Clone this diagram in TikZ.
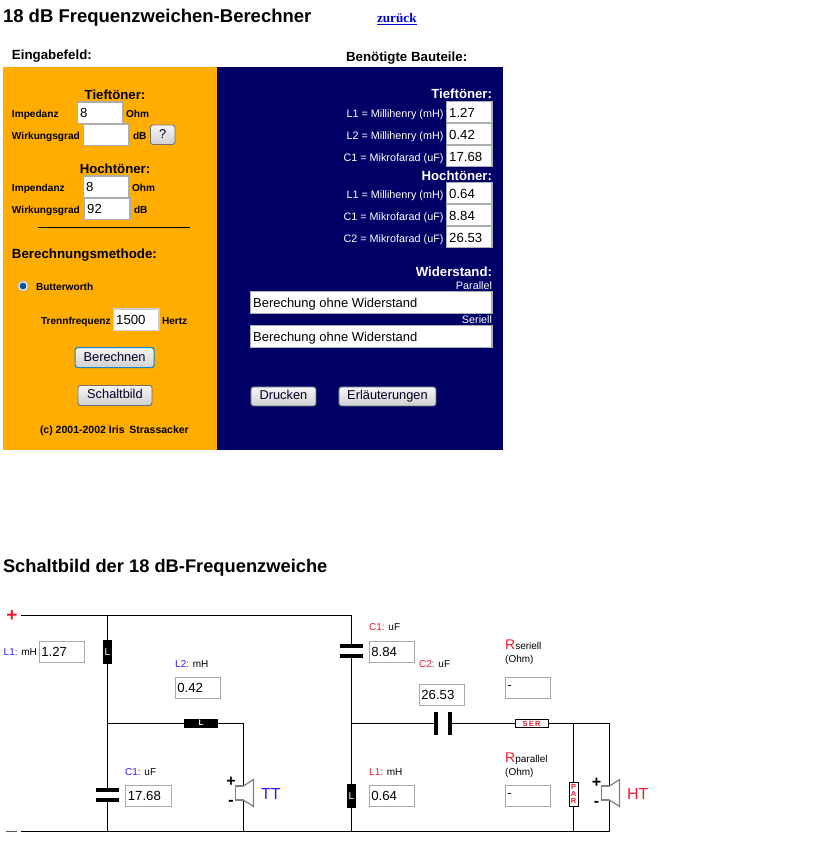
\documentclass[tikz,border=0pt]{standalone}
\usepackage{fontspec}
\setmainfont{Liberation Sans}
\newfontfamily\serifzur{Liberation Serif}
\usetikzlibrary{calc}
\definecolor{orangebg}{HTML}{FFAD00}
\definecolor{navybg}{HTML}{000066}
\definecolor{fieldgray}{HTML}{ABADB3}
\definecolor{schembox}{HTML}{A9A9A9}
\definecolor{lblue}{HTML}{2A1AF0}
\definecolor{lred}{HTML}{F01A30}
\definecolor{btnborder}{HTML}{707070}
\definecolor{btnlight}{HTML}{F6F6F6}
\definecolor{btndark}{HTML}{D0D0D0}
\definecolor{cone}{HTML}{808080}
\tikzset{
  x=1pt,y=-1pt,
  txt/.style={inner sep=0pt,outer sep=0pt,anchor=mid west,yshift=-1.5pt,font=\fontsize{#1}{#1}\selectfont},
  txt/.default=11,
  rtxt/.style={inner sep=0pt,outer sep=0pt,anchor=mid east,yshift=-1.5pt,font=\fontsize{#1}{#1}\selectfont},
  rtxt/.default=11,
  heading/.style={txt=18,yshift=-2pt,font=\fontsize{18.4}{18.4}\selectfont\bfseries},
  sub/.style={font=\fontsize{13.3}{13.3}\selectfont\bfseries},
  small/.style={yshift=0.7pt,font=\fontsize{10.1}{10.1}\selectfont\bfseries},
  big/.style={font=\fontsize{13.2}{13.2}\selectfont\bfseries},
  tiny/.style={font=\fontsize{10.8}{10.8}\selectfont},
  field/.style={draw=fieldgray,line width=1.4pt,fill=white,inner sep=0pt,minimum height=#1,anchor=north west,xshift=-0.7pt,yshift=0.3pt},
  schemfield/.style={draw=schembox,line width=1pt,fill=white,minimum width=45.5pt,minimum height=21pt,inner sep=0pt,anchor=north west,xshift=-0.4pt,
    text width=41pt,align=left,font=\fontsize{13.2}{13.2}\selectfont},
  inval/.style={inner sep=0pt,anchor=mid west,yshift=-3pt,font=\fontsize{13.2}{13.2}\selectfont},
  btn/.style={draw=btnborder,line width=0.9pt,rounded corners=2.5pt,top color=btnlight,bottom color=btndark,
    inner sep=0pt,anchor=north west,text height=9.5pt,text depth=2.5pt,font=\fontsize{12.8}{12.8}\selectfont,text=black!85!blue},
  wire/.style={line width=1pt,black},
  plate/.style={line width=3.2pt,black},
  coil/.style={fill=black,text=white,inner sep=0pt},
  res/.style={draw=black,line width=1pt,fill=white,text=lred,inner sep=0pt,font=\fontsize{7.5}{7.5}\selectfont\bfseries},
  scap/.style={font=\fontsize{10}{10}\selectfont,inner sep=0pt,anchor=mid west,yshift=-1pt},
  spk/.style={draw=cone,line width=1.2pt,fill=white},
  pm/.style={font=\fontsize{16}{16}\selectfont\bfseries,inner sep=0pt},
}
\begin{document}
\begin{tikzpicture}
\useasboundingbox (0,0) rectangle (839,846);
\fill[white] (0,0) rectangle (839,846);
% titles
\node[heading,font=\fontsize{18.5}{18.5}\selectfont\bfseries] (title) at (3,16) {18 dB Frequenzweichen-Berechner};
\node[txt,font=\serifzur\fontsize{13.2}{13.2}\selectfont\bfseries,text=blue!80!black] (back) at (377,18) {\underline{zurück}};
\node[txt,sub] (eingabe) at (12,55.5) {Eingabefeld:};
\node[txt,sub] (benoetigt) at (346,57.5) {Benötigte Bauteile:};
% panels
\fill[orangebg] (3,67) rectangle (217,450);
\fill[navybg] (217,67) rectangle (503,450);
% left panel
\node[anchor=mid,inner sep=0pt,yshift=-2pt,big] (tief) at (115,94.5) {Tieftöner:};
\node[txt,small] (imp1) at (12,114) {Impedanz};
\node[field=21.5pt,minimum width=45.5pt] (f1) at (77.5,101.5) {};
\node[inval] at (80,111.5) {8};
\node[txt,small] (oh1) at (126,114) {Ohm};
\node[txt,small] (wir1) at (12,136) {Wirkungsgrad};
\node[field=21.5pt,minimum width=45.5pt] (f2) at (83.5,123.5) {};
\node[txt,small] (db1) at (133,136) {dB};
\node[btn,minimum width=24.5pt,minimum height=19.5pt] (q) at (150,124.5) {?};
\node[anchor=mid,inner sep=0pt,yshift=-2pt,big] (hoch) at (115,168.5) {Hochtöner:};
\node[txt,small] (imp2) at (12,188) {Impendanz};
\node[field=21.5pt,minimum width=45.5pt] (f3) at (83.5,175.5) {};
\node[inval] at (86,185.5) {8};
\node[txt,small] (oh2) at (132,188) {Ohm};
\node[txt,small] (wir2) at (12,210) {Wirkungsgrad};
\node[field=21.5pt,minimum width=45.5pt] (f4) at (84.5,197.5) {};
\node[inval] at (87,207.5) {92};
\node[txt,small] (db2) at (134,210) {dB};
\coordinate (hl) at (38,227.5);
\coordinate (hr) at (190,227.5);
\draw[line width=1.2pt] (hl) -- (hr);
\node[txt,sub] (meth) at (12,254) {Berechnungsmethode:};
\draw[fill=white,draw=gray!50,line width=1pt] (23,286) circle (5);
\fill[blue!45!cyan!60!black] (23,286) circle (3.4);
\node[txt,small] (bw) at (36,287) {Butterworth};
\node[txt,small] (tr) at (41,321) {Trennfrequenz};
\node[field=21.5pt,minimum width=45.5pt,draw=fieldgray!60] (f5) at (113.5,308.5) {};
\node[inval] at (116,318.5) {1500};
\node[txt,small] (hz) at (162,321) {Hertz};
\node[btn,minimum width=79pt,minimum height=20pt,draw=cyan!70!blue,line width=1.2pt] (berech) at (74.5,347) {Berechnen};
\node[btn,minimum width=74pt,minimum height=20pt] (schalt) at (77.5,385) {Schaltbild};
\node[txt,font=\fontsize{10.5}{10.5}\selectfont\bfseries] (copy) at (40,429) {(c) 2001-2002 Iris\, Strassacker};
% right panel
\node[rtxt=13,big,text=white] (t2) at (492,94.5) {Tieftöner:};
\node[rtxt=13,big,text=white] (h2) at (492,176) {Hochtöner:};
\foreach \yy/\lab/\val/\nm in {101/L1 = Millihenry (mH)/1.27/a,123/L2 = Millihenry (mH)/0.42/b,145/C1 = Mikrofarad (uF)/17.68/c,182/L1 = Millihenry (mH)/0.64/d,204/C1 = Mikrofarad (uF)/8.84/e,226/C2 = Mikrofarad (uF)/26.53/f}{
  \node[field=21pt,minimum width=45.5pt] (r\nm) at (446.5,\yy) {};
  \node[inval] at (449,\yy+11) {\val};
  \node[rtxt=9.5,tiny,text=white] at (443.5,\yy+12.5) {\lab};
}
\node[rtxt=13,big,text=white] (w) at (492,272.5) {Widerstand:};
\node[rtxt=9.5,tiny,text=white] (par) at (492,285.5) {Parallel};
\node[field=22pt,minimum width=241.5pt] (fp) at (250.5,291) {};
\node[inval,font=\fontsize{12.95}{12.95}\selectfont] at (253,302) {Berechung ohne Widerstand};
\node[rtxt=9.5,tiny,text=white] (ser) at (492,319.5) {Seriell};
\node[field=22pt,minimum width=241.5pt] (fs) at (250.5,325) {};
\node[inval,font=\fontsize{12.95}{12.95}\selectfont] at (253,336) {Berechung ohne Widerstand};
\node[btn,minimum width=65pt,minimum height=19pt] (druck) at (250.5,386.5) {Drucken};
\node[btn,minimum width=97pt,minimum height=19pt] (erl) at (338.5,386.5) {Erläuterungen};
% schematic
\node[heading,font=\fontsize{18.3}{18.3}\selectfont\bfseries] (stitle) at (3,566.5) {Schaltbild der 18 dB-Frequenzweiche};
\coordinate (tl) at (21,615);
\coordinate (bl) at (21,831);
\coordinate (t1) at (107.5,615);
\coordinate (t2c) at (351.5,615);
\coordinate (j1) at (107.5,723);
\coordinate (j2) at (243.5,723);
\coordinate (b1) at (107.5,831);
\coordinate (b2) at (243.5,831);
\coordinate (b3) at (351.5,831);
\coordinate (b4) at (573.5,831);
\coordinate (b5) at (609.5,831);
\coordinate (j3) at (351.5,723);
\coordinate (j4) at (573.5,723);
\coordinate (j5) at (609.5,723);
\draw[wire] (tl) -- (t2c) -- (b3);
\draw[wire] (bl) -- (b5) -- (j5) -- (j3);
\draw[wire] (t1) -- (b1);
\draw[wire] (j1) -- (j2) -- (b2);
\draw[wire] (j4) -- (b4);
% L, C, R parts
\node[coil,minimum width=9pt,minimum height=24pt,font=\fontsize{10}{10}\selectfont] (L1) at (107.5,652) {L};
\node[coil,minimum width=34pt,minimum height=9pt,font=\fontsize{8}{8}\selectfont\bfseries] (L2) at (201,723) {L};
\node[coil,minimum width=9pt,minimum height=24pt,font=\fontsize{10}{10}\selectfont] (L3) at (351.5,796) {L};
\fill[white] (97,791) rectangle (118,800);
\draw[plate] (96,790) -- (119,790);
\draw[plate] (96,800) -- (119,800);
\fill[white] (341,647) rectangle (362,656);
\draw[plate] (340,646) -- (363,646);
\draw[plate] (340,656) -- (363,656);
\fill[white] (437,713) rectangle (449,734);
\draw[plate,line width=4pt] (436,712) -- (436,735);
\draw[plate,line width=4pt] (450,712) -- (450,735);
\node[res,minimum width=33pt,minimum height=8pt] (ser2) at (531.5,723.5) {S\,E\,R};
\node[res,minimum width=9pt,minimum height=24pt,align=center,font=\fontsize{7.5}{7}\selectfont\bfseries] (par2) at (573.5,794) {P\\A\\R};
% speakers
\draw[spk] (235.5,786) rectangle (243.5,800);
\draw[spk] (243.5,786) -- (253.5,779.5) -- (253.5,806.5) -- (243.5,800);
\fill[white] (243,787) rectangle (244,799);
\node[pm] (tp) at (231,782) {+};
\node[pm] (tm) at (231,803) {-};
\node[txt,yshift=-1.5pt,font=\fontsize{16}{16}\selectfont,text=lblue] (TT) at (261,794) {TT};
\draw[spk] (601.5,786) rectangle (609.5,800);
\draw[spk] (609.5,786) -- (619.5,779.5) -- (619.5,806.5) -- (609.5,800);
\fill[white] (609,787) rectangle (610,799);
\node[pm] (hp) at (596.5,782.5) {+};
\node[pm] (hm) at (596.5,803.5) {-};
\node[txt,yshift=-1.5pt,font=\fontsize{16}{16}\selectfont,text=lred] (HT) at (627,794) {HT};
% pole marks
\node[pm,font=\fontsize{19}{19}\selectfont\bfseries,text=lred] (plus) at (12,615.5) {+};
\draw[line width=1.6pt,black!65] (6,831.5) -- (17,831.5);
% captions
\node[scap] (c1) at (3.5,651.5) {\textcolor{lblue}{L1:} mH};
\node[schemfield] (s1) at (39,640.5) {1.27};
\node[scap] (c2) at (175,663.5) {\textcolor{lblue}{L2:} mH};
\node[schemfield] (s2) at (175,676.5) {0.42};
\node[scap] (c3) at (125,771.5) {\textcolor{lblue}{C1:} uF};
\node[schemfield] (s3) at (125.5,784.5) {17.68};
\node[scap] (c4) at (369,627) {\textcolor{lred}{C1:} uF};
\node[schemfield] (s4) at (369,640.5) {8.84};
\node[scap] (c5) at (419,663.5) {\textcolor{lred}{C2:} uF};
\node[schemfield] (s5) at (419,683.5) {26.53};
\node[scap] (c6) at (369,771.5) {\textcolor{lred}{L1:} mH};
\node[schemfield] (s6) at (369,784.5) {0.64};
\node[scap] (r1) at (505,646) {\textcolor{lred}{\fontsize{14}{14}\selectfont R}seriell};
\node[scap] (r1b) at (505,658.5) {(Ohm)};
\node[schemfield] (s7) at (505,676.5) {-};
\node[scap] (r2) at (505,759) {\textcolor{lred}{\fontsize{14}{14}\selectfont R}parallel};
\node[scap] (r2b) at (505,771.5) {(Ohm)};
\node[schemfield] (s8) at (505,784.5) {-};
\end{tikzpicture}
\end{document}
